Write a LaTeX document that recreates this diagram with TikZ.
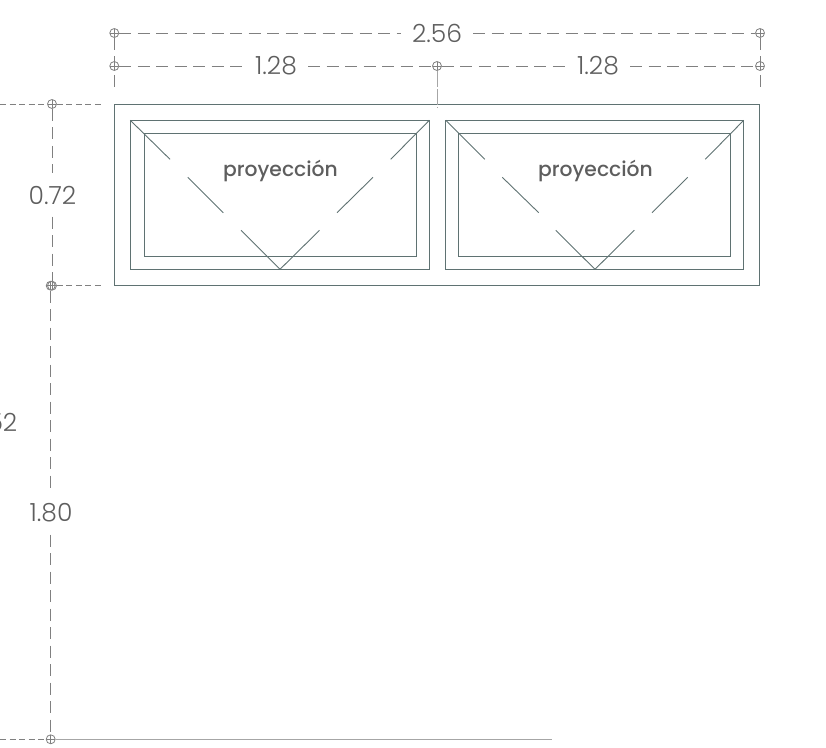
\documentclass[tikz,border=0pt]{standalone}
\usepackage{fontspec}
\setmainfont{Poppins}[UprightFont=* Light]
\newfontfamily\medfont{Poppins}[UprightFont=* Medium]
\definecolor{framec}{HTML}{5F7272}
\definecolor{dimc}{HTML}{808080}
\definecolor{txtc}{HTML}{5E5E5E}
\tikzset{
  x=1pt,y=-1pt,
  frameln/.style={draw=framec,line width=1pt},
  diag/.style={draw=framec,line width=0.9pt},
  dimln/.style={draw=dimc,line width=1pt,dash pattern=on 12pt off 6.5pt},
  dimlabel/.style={text=txtc,font=\fontsize{25}{25}\selectfont,inner xsep=11pt,inner ysep=2pt},
  vdimlabel/.style={dimlabel,inner xsep=0pt,minimum height=43pt},
  wintext/.style={text=txtc,font=\medfont\fontsize{20.3}{21}\selectfont,inner sep=0pt},
  pin/.style={circle,draw=dimc,line width=0.8pt,minimum size=9pt,inner sep=0pt,
    path picture={\draw[dimc,line width=0.7pt] (path picture bounding box.west)--(path picture bounding box.east)
      (path picture bounding box.north)--(path picture bounding box.south);}},
}
\begin{document}
\begin{tikzpicture}
\useasboundingbox (0,0) rectangle (826,747);
% window
\draw[frameln] (114.3,104) rectangle (759.7,285.7);
\draw[frameln] (130.3,120.3) rectangle (429.3,269.3);
\draw[frameln] (445.7,120.3) rectangle (743.7,269.3);
\draw[frameln] (144.7,133.3) rectangle (416.7,256.3);
\draw[frameln] (458.3,133.3) rectangle (730.7,256.3);
% opening marks
\draw[diag] (130.3,120.3)--(170,159.3) (187.7,177.3)--(223.3,212.7) (241,230.3)--(280,269.3)
  (429.3,120.3)--(390.7,159.3) (373,177.3)--(337,212.7) (319.5,230.3)--(280,269.3);
\draw[diag] (445.7,120.3)--(484.7,159.3) (502.3,177.3)--(538.7,212.7) (555.7,230.3)--(595,269.3)
  (743.7,120.3)--(705.3,159.3) (687.7,177.3)--(652,212.7) (634.3,230.3)--(595,269.3);
\node[wintext] (pa) at (280.5,171) {proyección};
\node[wintext] (pb) at (595.5,171) {proyección};
% pins
\node[pin] (t1) at (114.3,33) {};
\node[pin] (t2) at (760,33) {};
\node[pin] (m1) at (114.3,66) {};
\node[pin] (m2) at (437,66) {};
\node[pin] (m3) at (760,66) {};
\node[pin] (l1) at (52,104) {};
\node[pin] (l2) at (52,285.7) {};
\node[pin] (l2b) at (50.7,285.7) {};
\node[pin] (l3) at (50.7,739.3) {};
% labels
\node[dimlabel] (d256) at (437,33) {2.56};
\node[dimlabel] (d128a) at (276,66) {1.28};
\node[dimlabel] (d128b) at (598,66) {1.28};
\node[vdimlabel] (d072) at (52.5,195) {0.72};
\node[vdimlabel] (d180) at (51,513) {1.80};
\node[dimlabel,anchor=east,inner sep=0pt] (d252) at (17.5,422) {2.52};
% free ends
\coordinate (a1) at (114.3,92);
\coordinate (a2) at (437,108);
\coordinate (a3) at (760,92);
\coordinate (b1) at (0,104);
\coordinate (b2) at (103,104);
\coordinate (b3) at (103,285.7);
\coordinate (b4) at (0,739.3);
\coordinate (g1) at (552,739.3);
% dimension lines
\draw[dimln] (t1)--(d256); \draw[dimln] (d256)--(t2);
\draw[dimln] (m1)--(d128a); \draw[dimln] (d128a)--(m2);
\draw[dimln] (m2)--(d128b); \draw[dimln] (d128b)--(m3);
\draw[dimln] (t1)--(a1); \draw[dimln] (t2)--(a3);
\draw[dimln,draw=black!35,dash pattern=on 16pt off 2pt] (m2)--(a2);
\draw[dimln] (l1)--(l1|-d072.north); \draw[dimln] (d072.south-|l2)--(l2);
\draw[dimln] (l2b)--(l2b|-d180.north); \draw[dimln] (d180.south-|l3)--(l3);
\draw[dimln,dash pattern=on 6pt off 3.5pt] (b1)--(l1);
\draw[dimln,dash pattern=on 6pt off 3.5pt] (l1)--(b2);
\draw[dimln,dash pattern=on 6pt off 3.5pt] (l2)--(b3);
\draw[dimln,dash pattern=on 6pt off 3.5pt] (b4)--(l3);
\draw[draw=black!35,line width=0.9pt] (l3)--(g1);
\end{tikzpicture}
\end{document}
